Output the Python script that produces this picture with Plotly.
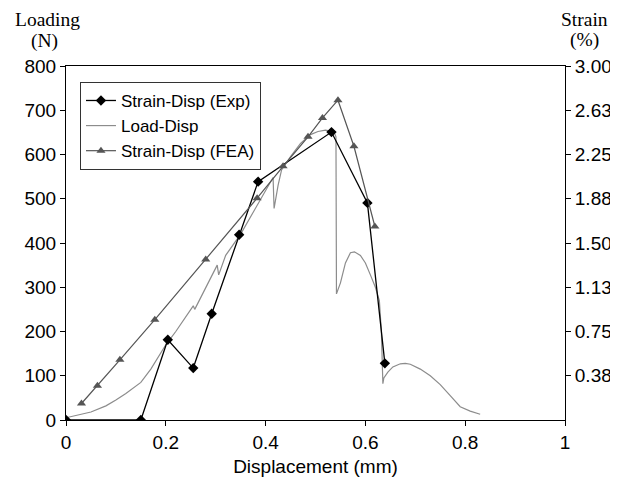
import plotly.graph_objects as go

# Strain-Disp (Exp)
exp_disp = [0.0, 0.15, 0.204, 0.255, 0.292, 0.347, 0.385, 0.532, 0.604, 0.639]
exp_strain = [0.0, 0.0, 0.68, 0.44, 0.90, 1.57, 2.02, 2.44, 1.84, 0.48]

# Strain-Disp (FEA)
fea_disp = [0.031, 0.063, 0.108, 0.178, 0.28, 0.383, 0.435, 0.485, 0.514, 0.545, 0.577, 0.619]
fea_strain = [0.14, 0.29, 0.51, 0.85, 1.36, 1.88, 2.15, 2.40, 2.56, 2.71, 2.32, 1.64]

# Load-Disp
load_disp = [0.0, 0.02, 0.05, 0.08, 0.1, 0.12, 0.15, 0.17, 0.2, 0.22, 0.25, 0.255, 0.258,
             0.28, 0.295, 0.3, 0.303, 0.306, 0.32, 0.35, 0.37, 0.39, 0.405, 0.41, 0.415,
             0.417, 0.425, 0.432, 0.45, 0.47, 0.49, 0.505, 0.52, 0.53, 0.538, 0.541, 0.542,
             0.55, 0.56, 0.57, 0.578, 0.59, 0.6, 0.61, 0.62, 0.628, 0.632, 0.635, 0.637,
             0.645, 0.655, 0.67, 0.68, 0.69, 0.71, 0.73, 0.75, 0.77, 0.79, 0.81, 0.83]
load_n = [5, 10, 18, 32, 45, 60, 85, 115, 170, 200, 250, 258, 250,
          300, 335, 345, 350, 328, 372, 420, 460, 500, 530, 540, 548,
          478, 530, 565, 595, 625, 645, 652, 655, 653, 648, 640, 285,
          310, 355, 378, 380, 372, 355, 328, 300, 270, 200, 82, 95,
          108, 120, 127, 128, 126, 115, 100, 80, 55, 30, 20, 13]

x_ticks = [0, 0.2, 0.4, 0.6, 0.8, 1]
x_ticktext = ["0", "0.2", "0.4", "0.6", "0.8", "1"]
left_ticks = [0, 100, 200, 300, 400, 500, 600, 700, 800]
right_ticks = [0.375, 0.75, 1.125, 1.5, 1.875, 2.25, 2.625, 3.0]
right_ticktext = ["0.38", "0.75", "1.13", "1.50", "1.88", "2.25", "2.63", "3.00"]

fig = go.Figure()
fig.add_trace(go.Scatter(x=exp_disp, y=exp_strain, yaxis="y2", name="Strain-Disp (Exp)",
                         mode="lines+markers", line=dict(color="black", width=1.3),
                         marker=dict(symbol="diamond", size=8, color="black")))
fig.add_trace(go.Scatter(x=load_disp, y=load_n, name="Load-Disp", mode="lines",
                         line=dict(color="#8c8c8c", width=1.2)))
fig.add_trace(go.Scatter(x=fea_disp, y=fea_strain, yaxis="y2", name="Strain-Disp (FEA)",
                         mode="lines+markers", line=dict(color="#555555", width=1.2),
                         marker=dict(symbol="triangle-up", size=8, color="#555555")))

axfont = dict(family="Liberation Sans, Arial", size=19, color="black")
serif = dict(family="Liberation Serif, Times New Roman", size=19.5, color="black")


def px_x(screen_x):
    return (screen_x - 66) / 499


def px_y(screen_y):
    return (420 - screen_y) / 354


def label(text, sx, sy):
    return dict(text=text, x=px_x(sx), y=px_y(sy), xref="paper", yref="paper",
                showarrow=False, xanchor="center", yanchor="middle", font=serif)


# page body has an 8px margin, so the figure is sized to fit inside 618x485
fig.update_layout(
    width=610, height=469,
    margin=dict(l=58, r=53, t=58, b=57, autoexpand=False),
    paper_bgcolor="white", plot_bgcolor="white",
    showlegend=True,
    legend=dict(x=0.028, y=0.955, xanchor="left", yanchor="top",
                bordercolor="#333333", borderwidth=1, bgcolor="white",
                font=dict(family="Liberation Sans, Arial", size=17, color="black"),
                tracegroupgap=0, itemwidth=30),
    xaxis=dict(range=[0, 1], tickvals=x_ticks, ticktext=x_ticktext, ticks="outside",
               ticklen=5, tickcolor="black", showline=True, linecolor="black", linewidth=1,
               mirror=True, showgrid=False, zeroline=False, tickfont=axfont, automargin=False,
               title=dict(text="Displacement (mm)", font=axfont, standoff=10)),
    yaxis=dict(range=[0, 800], tickvals=left_ticks, ticks="outside", ticklen=5,
               tickcolor="black", showline=True, linecolor="black", linewidth=1,
               showgrid=False, zeroline=False, tickfont=axfont, automargin=False),
    yaxis2=dict(range=[0, 3], overlaying="y", side="right", tickvals=right_ticks,
                ticktext=right_ticktext, ticks="outside", ticklen=5, tickcolor="black",
                showline=True, linecolor="black", linewidth=1, showgrid=False,
                zeroline=False, tickfont=axfont, automargin=False),
    annotations=[
        label("Loading", 47, 19),
        label("(N)", 44, 41),
        label("Strain", 584, 19),
        label("(%)", 584, 40),
    ],
)

fig.write_html("out.html")
